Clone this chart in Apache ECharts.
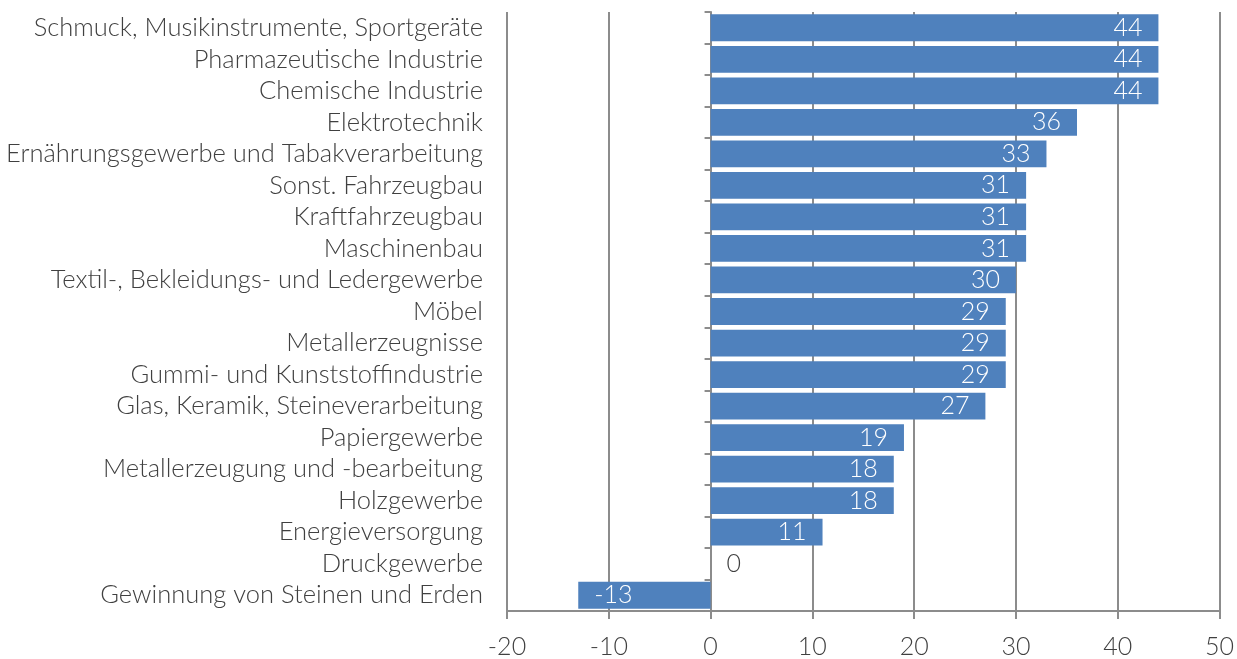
<!DOCTYPE html>
<html><head><meta charset="utf-8">
<script src="https://cdn.jsdelivr.net/npm/echarts@6/dist/echarts.min.js"></script>
<style>html,body{margin:0;padding:0;background:#fff}#c{width:1237px;height:659px}</style>
</head><body><div id="c"></div>
<script>
const categories = ["Schmuck, Musikinstrumente, Sportgeräte","Pharmazeutische Industrie","Chemische Industrie","Elektrotechnik","Ernährungsgewerbe und Tabakverarbeitung","Sonst. Fahrzeugbau","Kraftfahrzeugbau","Maschinenbau","Textil-, Bekleidungs- und Ledergewerbe","Möbel","Metallerzeugnisse","Gummi- und Kunststoffindustrie","Glas, Keramik, Steineverarbeitung","Papiergewerbe","Metallerzeugung und -bearbeitung","Holzgewerbe","Energieversorgung","Druckgewerbe","Gewinnung von Steinen und Erden"];
const values = [44,44,44,36,33,31,31,31,30,29,29,29,27,19,18,18,11,0,-13];
const xTicks = {min:-20, max:50, interval:10};

const FONT = 'Lato';
const seriesData = values.map(v => {
  if (v === 0) return {value:v, label:{position:'right', color:'#404040', distance:16}};
  if (v < 0) return {value:v, label:{position:'insideLeft', distance:16}};
  return {value:v};
});

const chart = echarts.init(document.getElementById('c'), null, {renderer:'canvas'});
chart.setOption({
  animation:false,
  textStyle:{fontFamily:FONT},
  grid:{left:507, right:17, top:12, bottom:47, containLabel:false},
  xAxis:{type:'value', min:xTicks.min, max:xTicks.max, interval:xTicks.interval,
    axisLine:{show:true, onZero:false, lineStyle:{color:'#8c8c8c', width:2}},
    axisTick:{show:true, length:8, lineStyle:{color:'#8c8c8c', width:2}},
    axisLabel:{fontFamily:FONT, fontWeight:300, fontSize:25, color:'#404040', margin:23},
    splitLine:{show:true, lineStyle:{color:'#8c8c8c', width:2}}},
  yAxis:[
    {type:'category', data:categories, inverse:true, position:'left',
     axisLine:{show:false, onZero:false}, axisTick:{show:false},
     axisLabel:{interval:0, fontFamily:FONT, fontWeight:300, fontSize:25.5, color:'#404040', margin:24}},
    {type:'category', data:categories, inverse:true, position:'left',
     axisLine:{show:true, onZero:true, lineStyle:{color:'#8c8c8c', width:2}},
     axisTick:{show:true, interval:0, length:6, lineStyle:{color:'#8c8c8c', width:2}},
     axisLabel:{show:false}}
  ],
  series:[{type:'bar', yAxisIndex:0, data:seriesData, barCategoryGap:'15%',
    itemStyle:{color:'#4f81bd'},
    label:{show:true, position:'insideRight', distance:16, color:'#fff',
      fontFamily:FONT, fontWeight:300, fontSize:25}}]
});
</script></body></html>
